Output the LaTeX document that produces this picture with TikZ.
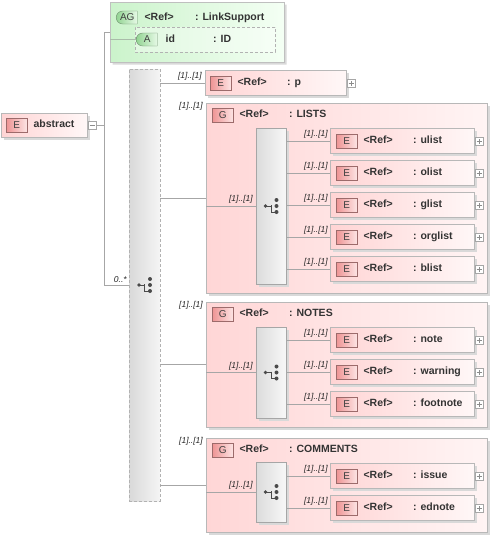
\documentclass[tikz,border=0pt]{standalone}
\usepackage{fontspec}
\setmainfont{Liberation Sans}
\usetikzlibrary{positioning,shapes.misc,shadows}
\definecolor{ElemL}{HTML}{FFD4D4}
\definecolor{ElemR}{HTML}{FFF7F7}
\definecolor{BadgeL}{HTML}{EE9494}
\definecolor{BadgeR}{HTML}{FDE4E4}
\definecolor{BadgeLine}{HTML}{9C6B6B}
\definecolor{GrpL}{HTML}{FFD6D6}
\definecolor{GrpR}{HTML}{FFF4F4}
\definecolor{AgL}{HTML}{CBF3CB}
\definecolor{AgR}{HTML}{F4FFF4}
\definecolor{AgBadgeL}{HTML}{92D492}
\definecolor{AgBadgeR}{HTML}{E6F9E6}
\definecolor{AgLine}{HTML}{6F8F6F}
\definecolor{LineClr}{HTML}{A6A6A6}
\definecolor{BoxLine}{HTML}{B8B8B8}
\definecolor{TextClr}{HTML}{333333}
\definecolor{IconClr}{HTML}{4A4A4A}

\tikzset{
  conn/.style={draw=LineClr,line width=0.6pt},
  agconn/.style={draw=AgLine!60,line width=0.6pt},
  boxshadow/.style={general shadow={fill=black!15,shadow xshift=2.5pt,shadow yshift=-2.5pt}},
  elembox/.style={draw=BoxLine,left color=ElemL,right color=ElemR,minimum height=25pt,
    inner sep=0pt,outer sep=0pt,anchor=west,boxshadow},
  grpbox/.style={draw=BoxLine,left color=GrpL,right color=GrpR,minimum width=281pt,
    inner sep=0pt,outer sep=0pt,anchor=north west,boxshadow},
  seqbox/.style={draw=black!35,left color=black!14,right color=black!3,minimum width=30pt,
    inner sep=0pt,outer sep=0pt,anchor=north west,boxshadow},
  chbox/.style={draw=black!30,dash pattern=on 3pt off 2pt,left color=black!15,right color=black!4,
    inner sep=0pt,outer sep=0pt,anchor=west},
  agbox/.style={chamfered rectangle,chamfered rectangle xsep=6pt,chamfered rectangle ysep=6pt,
    draw=black!25,left color=AgL,right color=AgR,inner sep=0pt,outer sep=0pt,anchor=west,boxshadow},
  attrbox/.style={chamfered rectangle,chamfered rectangle xsep=4pt,chamfered rectangle ysep=4pt,
    draw=black!30,dash pattern=on 3pt off 2pt,fill=white,fill opacity=0.35,
    inner sep=0pt,outer sep=0pt,anchor=west},
  badge/.style={draw=BadgeLine,left color=BadgeL,right color=BadgeR,minimum width=21pt,
    minimum height=14pt,inner sep=0pt,text=black!75,font=\fontsize{10}{10}\selectfont},
  agbadge/.style={rounded rectangle,rounded rectangle right arc=none,draw=AgLine,
    left color=AgBadgeL,right color=AgBadgeR,minimum width=21pt,minimum height=13pt,
    inner sep=0pt,text=black!75,font=\fontsize{10}{10}\selectfont},
  lbl/.style={anchor=west,inner sep=0pt,text=TextClr,text height=7.5pt,text depth=2pt,
    font=\bfseries\fontsize{10.5}{12}\selectfont},
  mult/.style={inner sep=0pt,text=black!85,font=\itshape\fontsize{8.5}{9}\selectfont},
  plusbox/.style={draw=black!35,fill=white,minimum size=8pt,inner sep=0pt,
    path picture={\draw[black!45] (path picture bounding box.center) +(-2.5pt,0) -- +(2.5pt,0)
      +(0,-2.5pt) -- +(0,2.5pt);}},
  minusbox/.style={draw=black!35,fill=white,minimum size=8pt,inner sep=0pt,
    path picture={\draw[black!45] (path picture bounding box.center) +(-2.5pt,0) -- +(2.5pt,0);}},
  choiceicon/.pic={
    \fill[IconClr] (-5.5,0) circle (1.8pt);
    \draw[IconClr,line width=0.9pt] (-5.5,0) -- (0,0) (0,-1) -- (0,6) -- (5.5,6);
    \foreach \dy in {-6,0,6} \fill[IconClr] (5.5,\dy) circle (2pt);
  }
}

\begin{document}
\begin{tikzpicture}[x=1pt,y=-1pt]
\useasboundingbox (0,0) rectangle (494,539);

% root element
\node[elembox,minimum width=86pt,minimum height=24pt] (abstract) at (1,125) {};
\node[badge,right=5pt of abstract.west] (abstract-b) {E};
\node[lbl,right=6pt of abstract-b] (abstract-n) {abstract};
\node[minusbox,right=1pt of abstract.east] (abstract-m) {};

% attribute group
\node[agbox,minimum width=174pt,minimum height=60pt] (AG) at (110,32) {};
\node[agbadge,anchor=west] (AG-b) at (116,17.5) {AG};
\node[lbl,right=7pt of AG-b] (AG-r) {<Ref>};
\node[lbl] (AG-n) at ([xshift=79pt]AG-b.west) {: LinkSupport};
\node[attrbox,minimum width=140pt,minimum height=25pt] (id) at (135,39.5) {};
\node[agbadge,right=1pt of id.west] (id-b) {A};
\node[lbl,right=8pt of id-b] (id-r) {id};
\node[lbl] (id-n) at ([xshift=77pt]id-b.west) {: ID};
\draw[agconn] (AG.west |- id) -- (id-b.west);

% choice
\node[chbox,minimum width=31pt,minimum height=432pt] (chc) at (129,285) {};
\pic at (chc) {choiceicon};

\coordinate (trunk) at (104,125);
\draw[conn] (abstract-m.east) -- (trunk);
\draw[conn] (trunk |- AG) -- (trunk |- chc);
\draw[conn] (trunk |- AG) -- (AG.west);
\draw[conn] (trunk |- chc) -- (chc.west) node[mult,anchor=south east,shift={(-2pt,2pt)}] {0..*};

% p
\node[elembox,minimum width=141pt] (p) at (205,83) {};
\node[badge,right=5pt of p.west] (p-b) {E};
\node[lbl,right=6pt of p-b] (p-r) {<Ref>};
\node[lbl] (p-n) at ([xshift=77pt]p-b.west) {: p};
\node[plusbox,right=1pt of p.east] (p-p) {};
\draw[conn] (chc.east |- p) -- (p.west) node[mult,anchor=south east,shift={(-3pt,2pt)}] {[1]..[1]};

% groups
\foreach \gr/\nm/\gtp/\ghgt/\stp/\shgt in {lists/LISTS/103/190/128/156,
    notes/NOTES/302/125/327/91, comments/COMMENTS/438/94/462/60}{
  \node[grpbox,minimum height=\ghgt pt] (\gr) at (206,\gtp) {};
  \node[badge,anchor=north west] (\gr-b) at ([shift={(6pt,-5pt)}]\gr.north west) {G};
  \node[lbl,right=6pt of \gr-b] (\gr-r) {<Ref>};
  \node[lbl] (\gr-n) at ([xshift=77pt]\gr-b.west) {: \nm};
  \node[seqbox,minimum height=\shgt pt] (\gr-s) at (256,\stp) {};
  \pic at (\gr-s) {choiceicon};
  \draw[conn] (chc.east |- \gr) -- (\gr.west);
  \node[mult,anchor=north east] (\gr-m) at ([shift={(-3pt,1pt)}]\gr.north west) {[1]..[1]};
  \draw[conn] (\gr.west |- \gr-s) -- (\gr-s.west)
    node[mult,anchor=south east,shift={(-3pt,2pt)}] {[1]..[1]};
}

% children
\foreach \nm/\yc/\grp in {ulist/141/lists, olist/173/lists, glist/205/lists,
    orglist/237/lists, blist/269/lists, note/340/notes, warning/372/notes,
    footnote/404/notes, issue/476/comments, ednote/508/comments}{
  \node[elembox,minimum width=144pt] (\nm) at (330,\yc) {};
  \node[badge,right=6pt of \nm.west] (\nm-b) {E};
  \node[lbl,right=6pt of \nm-b] (\nm-r) {<Ref>};
  \node[lbl] (\nm-n) at ([xshift=77pt]\nm-b.west) {: \nm};
  \node[plusbox,right=1pt of \nm.east] (\nm-p) {};
  \draw[conn] (\grp-s.east |- \nm) -- (\nm.west)
    node[mult,anchor=south east,shift={(-2pt,2pt)}] {[1]..[1]};
}

\end{tikzpicture}
\end{document}
